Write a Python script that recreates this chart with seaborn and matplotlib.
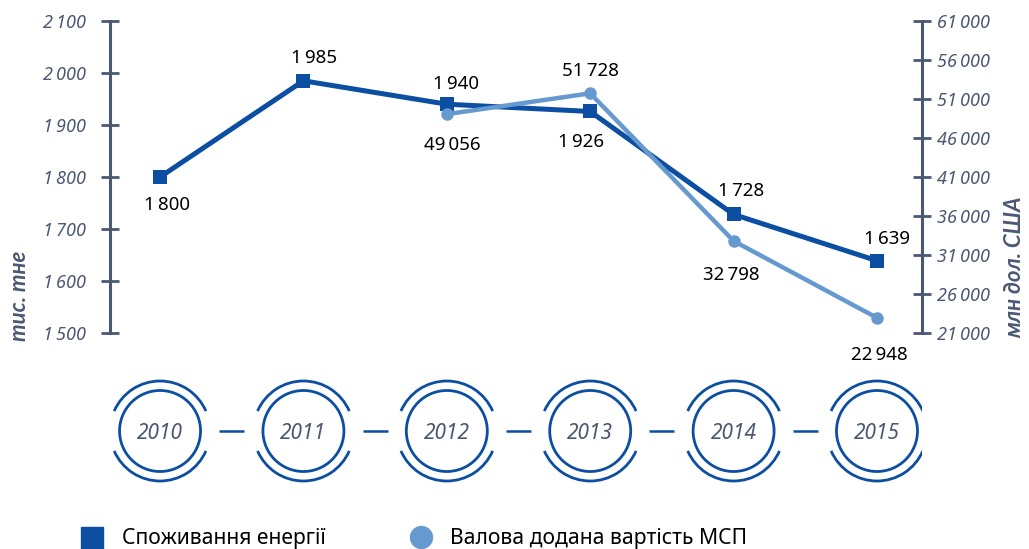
import matplotlib
matplotlib.use("Agg")
import matplotlib.pyplot as plt
from matplotlib.patches import Circle, Arc
from matplotlib.lines import Line2D
import seaborn as sns
import pandas as pd

# --- data ---
years = [2010, 2011, 2012, 2013, 2014, 2015]
energy = [1800, 1985, 1940, 1926, 1728, 1639]
sme_years = [2012, 2013, 2014, 2015]
sme_value = [49056, 51728, 32798, 22948]

left_ticks = [1500, 1600, 1700, 1800, 1900, 2000, 2100]
right_ticks = [21000, 26000, 31000, 36000, 41000, 46000, 51000, 56000, 61000]

energy_label = "Споживання енергії"
sme_label = "Валова додана вартість МСП"
left_title = "тис. тне"
right_title = "млн дол. США"

# label offsets from the marker, in pixels (dx, dy of baseline)
energy_offsets = [(7, -33), (11, 18), (9, 15), (-9, -36), (8, 18), (10, 17)]
sme_offsets = [(5, -36), (0, 17), (-2, -39), (2, -42)]

DARK = "#0b4ea2"
LIGHT = "#6699cf"
GREY = "#4b5873"

sns.set_theme(style="white")
plt.rcParams["font.family"] = ["Noto Sans", "DejaVu Sans"]


def fmt(v):
    return f"{v:,}".replace(",", "\u2009")


W, H = 1029, 549
fig = plt.figure(figsize=(W / 100, H / 100), dpi=100)
ax = fig.add_axes([110 / W, 1 - 333 / H, 812 / W, 312 / H])
ax2 = ax.twinx()

XMIN, XMAX = 2009.651, 2015.314

energy_df = pd.DataFrame({"year": years, "value": energy})
sme_df = pd.DataFrame({"year": sme_years, "value": sme_value})

sns.lineplot(data=energy_df, x="year", y="value", ax=ax, color=DARK,
             linewidth=3.6, marker="s", markersize=10, markeredgewidth=0,
             markeredgecolor=DARK, legend=False)
sns.lineplot(data=sme_df, x="year", y="value", ax=ax2, color=LIGHT,
             linewidth=3.2, marker="o", markersize=9, markeredgewidth=0,
             markeredgecolor=LIGHT, legend=False)

ax.set_xlim(XMIN, XMAX)
ax.set_ylim(1500, 2100)
ax2.set_ylim(21000, 61000)
ax.set_xticks([])
for a in (ax, ax2):
    a.set_xlabel("")
    a.set_ylabel("")
    for s in a.spines.values():
        s.set_visible(False)
ax.spines["left"].set_visible(True)
ax2.spines["right"].set_visible(True)
ax.spines["left"].set_color(GREY)
ax2.spines["right"].set_color(GREY)
ax.spines["left"].set_linewidth(2.2)
ax2.spines["right"].set_linewidth(2.2)

ax.set_yticks(left_ticks, labels=[fmt(v) for v in left_ticks])
ax2.set_yticks(right_ticks, labels=[fmt(v) for v in right_ticks])
ax.tick_params(axis="y", left=True, direction="inout", length=13, width=2,
               color=GREY, labelcolor=GREY, labelsize=13, pad=11)
ax2.tick_params(axis="y", right=True, direction="inout", length=13, width=2,
                color=GREY, labelcolor=GREY, labelsize=13, pad=4.5)
for lab in ax.get_yticklabels() + ax2.get_yticklabels():
    lab.set_fontstyle("italic")

# value labels
for x, y, (dx, dy) in zip(years, energy, energy_offsets):
    ax.annotate(fmt(y), (x, y), xytext=(dx * 0.72, dy * 0.72),
                textcoords="offset points", ha="center", va="baseline",
                fontsize=13.5, color="black")
for x, y, (dx, dy) in zip(sme_years, sme_value, sme_offsets):
    ax2.annotate(fmt(y), (x, y), xytext=(dx * 0.72, dy * 0.72),
                 textcoords="offset points", ha="center", va="baseline",
                 fontsize=13.5, color="black")

# year circles below the chart
axc = fig.add_axes([110 / W, 1 - 492 / H, 812 / W, 120 / H])
ux = (XMAX - XMIN) / 812
axc.set_xlim(XMIN, XMAX)
axc.set_ylim(0, 120 * ux)
axc.axis("off")
cy = 61 * ux
r_in, r_out = 40.5 * ux, 50 * ux
for i, yr in enumerate(years):
    axc.add_patch(Circle((yr, cy), r_in, fill=False, lw=2, ec=DARK))
    axc.add_patch(Arc((yr, cy), 2 * r_out, 2 * r_out, theta1=23.5,
                      theta2=156.5, lw=2, color=DARK))
    axc.add_patch(Arc((yr, cy), 2 * r_out, 2 * r_out, theta1=203.5,
                      theta2=336.5, lw=2, color=DARK))
    axc.text(yr, cy - 8 * ux, str(yr), ha="center", va="baseline",
             fontsize=15, fontstyle="italic", color=GREY)
    if i < len(years) - 1:
        mid = yr + 0.5
        axc.plot([mid - 12.5 * ux, mid + 12.5 * ux], [cy, cy], color=DARK,
                 lw=1.8, solid_capstyle="butt")

# axis titles
title_font = ["Lato", "DejaVu Sans"]
fig.text(20 / W, 1 - 296 / H, left_title, rotation=90, ha="center",
         va="center", fontsize=16, fontweight="bold", fontstyle="italic",
         color=GREY, family=title_font)
fig.text(1015 / W, 1 - 267 / H, right_title, rotation=90, ha="center",
         va="center", fontsize=16, fontweight="bold", fontstyle="italic",
         color=GREY, family=title_font)

# legend
fig.add_artist(Line2D([91.5 / W], [1 - 537.5 / H], marker="s", ms=16.5,
                      color=DARK, ls="none", transform=fig.transFigure))
fig.text(122 / W, 1 - 544 / H, energy_label, va="baseline", fontsize=15.2,
         color="black")
fig.add_artist(Line2D([421 / W], [1 - 537 / H], marker="o", ms=15.8,
                      color=LIGHT, ls="none", transform=fig.transFigure))
fig.text(450 / W, 1 - 544 / H, sme_label, va="baseline", fontsize=15.2,
         color="black")

fig.savefig("out.png", dpi=100)
